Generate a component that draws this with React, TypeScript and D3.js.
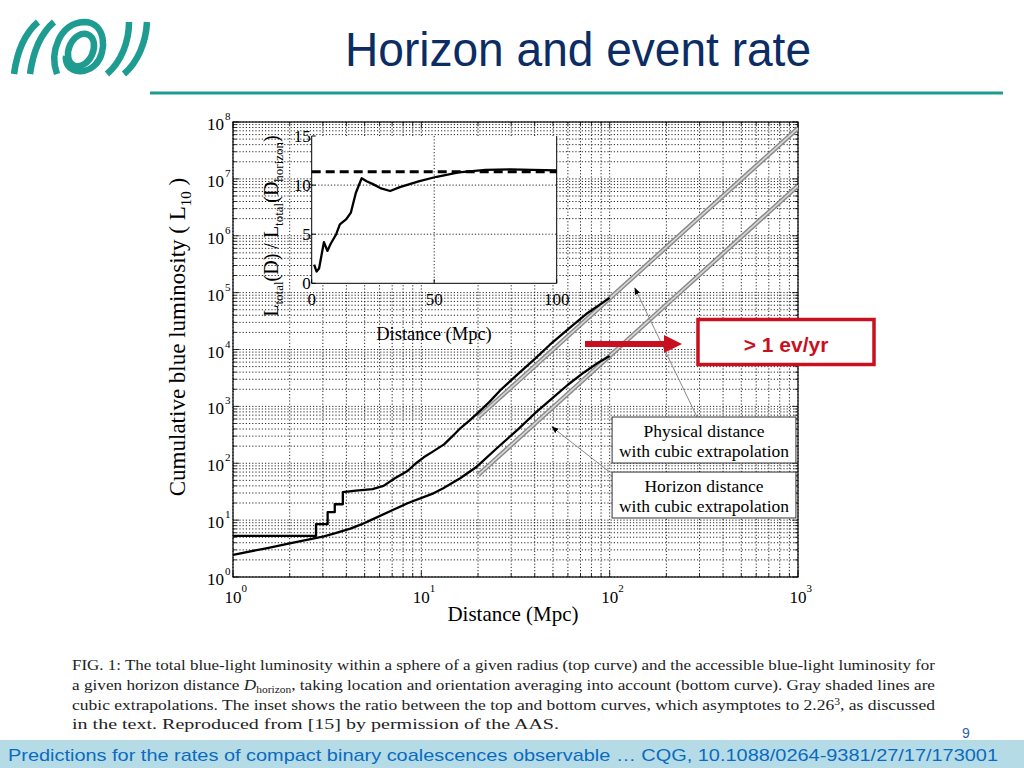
import * as d3 from "d3";

// ─── Data ────────────────────────────────────────────────────────────────────

// top curve: physical distance (Mpc) vs cumulative blue luminosity (L10)
const physicalD = [1, 2.76, 2.76, 3.18, 3.18, 3.47, 3.47, 3.83, 3.83, 4.5, 5.5, 6.3, 7.2, 8.4, 9.3, 10.3, 11.5, 13.2, 14.5, 16.2, 18, 19.9, 21, 23, 26.5, 32, 39.8, 48, 60, 75, 100];
const physicalL = [5.3, 5.3, 8.5, 8.5, 13.8, 13.8, 19, 19, 31, 33, 35, 40, 54, 72, 98, 127, 160, 215, 290, 420, 560, 760, 900, 1200, 1980, 3500, 6700, 12000, 22500, 42000, 80700];

// bottom curve: horizon distance
const horizonD = [1, 1.5, 2, 3.04, 3.5, 4.2, 4.8, 5.5, 7.1, 8.5, 11.6, 13, 16, 19.7, 25, 32.6, 40, 48.8, 60, 73, 85, 100];
const horizonL = [2.45, 3.2, 3.9, 5.2, 5.9, 7.1, 8.4, 10.3, 15.2, 20, 29.6, 36, 54, 87, 180, 393, 750, 1330, 2400, 3950, 5600, 7700];

// gray cubic extrapolations (end points)
const cubicD = [20, 1000];
const cubicTopL = [640, 7.8e7];
const cubicBottomL = [62, 7.6e6];

// inset: ratio of the two curves
const ratioD = [1, 2, 3, 5, 6.4, 7.7, 10, 11.5, 14, 16, 18, 20.4, 22.4, 25, 28, 32, 36, 44, 51, 60, 71, 81, 90, 100];
const ratioV = [1.9, 1.2, 1.5, 4.2, 3.3, 4.0, 5.0, 6.0, 6.5, 7.2, 9.2, 10.7, 10.4, 10.1, 9.7, 9.4, 9.8, 10.4, 10.85, 11.3, 11.55, 11.6, 11.55, 11.5];
const ratioAsymptote = 11.35;

const xExponents = [0, 1, 2, 3];
const yExponents = [0, 1, 2, 3, 4, 5, 6, 7, 8];
const insetXTicks = [0, 50, 100];
const insetYTicks = [0, 5, 10, 15];

const captionLines = [
  "FIG. 1: The total blue-light luminosity within a sphere of a given radius (top curve) and the accessible blue-light luminosity for",
  "cubic extrapolations.  The inset shows the ratio between the top and bottom curves, which asymptotes to 2.26",
  "in the text. Reproduced from [15] by permission of the AAS.",
];

// annotation arrows, in data coordinates: [tailD, tailL, tipD, tipL]
const annotationArrows = [
  [291, 650, 136, 1.2e5],
  [100, 70, 49.4, 434],
];
// label boxes: [leftD, rightD, topL, bottomL, line1, line2]
const labelBoxes: [number, number, number, number, string, string][] = [
  [103, 975, 650, 101, "Physical distance", "with cubic extrapolation"],
  [103, 975, 70, 10.9, "Horizon distance", "with cubic extrapolation"],
];

const SERIF = "'Liberation Serif', 'DejaVu Serif', serif";
const SANS = "'Liberation Sans', Arial, sans-serif";
const TEAL = "#1e9c92";
const NAVY = "#0b2d63";
const RED = "#c8101e";

// ─── Scales ──────────────────────────────────────────────────────────────────

const x = d3.scaleLog().domain([1, 1000]).range([233, 798]);
const y = d3.scaleLog().domain([1, 1e8]).range([577, 122]);
const ix = d3.scaleLinear().domain([0, 100]).range([311.7, 556.7]);
const iy = d3.scaleLinear().domain([0, 15]).range([283.3, 136]);

function minorValues(lo: number, hi: number) {
  const out: number[] = [];
  for (let e = lo; e < hi; e++) for (let m = 1; m < 10; m++) out.push(m * 10 ** e);
  out.push(10 ** hi);
  return out;
}

const line = (xs: number[], ys: number[]) =>
  d3.line<number>().x((_, i) => x(xs[i])).y((d) => y(d))(ys) ?? "";
const insetLine = d3.line<number>().x((_, i) => ix(ratioD[i])).y((d) => iy(d));

function Logo() {
  return (
    <g fill="none" stroke={TEAL} strokeWidth={6.5}>
      <path d="M 14 74 C 17 52, 24 34, 38 22" />
      <path d="M 30 74 C 33 52, 40 34, 54 22" />
      <path d="M 57 74 C 49 52, 60 23, 84 22 C 106 22, 108 52, 95 65 C 84 76, 64 72, 66 56" />
      <ellipse cx={81} cy={50} rx={12} ry={17} transform="rotate(25 81 50)" />
      <path d="M 107 74 C 121 62, 129 42, 129 22" />
      <path d="M 124 74 C 138 62, 146 42, 147 22" />
    </g>
  );
}

export default function App() {
  const xGrid = minorValues(0, 3);
  const yGrid = minorValues(0, 8);
  const [x0, x1] = x.range();
  const [y0, y1] = y.range();

  return (
    <div style={{ position: "fixed", left: 0, top: 0 }}>
      <svg width={1024} height={768} style={{ display: "block", background: "#fff" }}>
        <defs>
          <clipPath id="plot">
            <rect x={x0} y={y1} width={x1 - x0} height={y0 - y1} />
          </clipPath>
          <marker id="ah" viewBox="0 0 10 10" refX="9" refY="5" markerWidth="7" markerHeight="7" orient="auto">
            <path d="M0,1 L10,5 L0,9 z" fill="#000" />
          </marker>
        </defs>

        {/* ── Slide header ── */}
        <Logo />
        <text x={578} y={66} textAnchor="middle" fontFamily={SANS} fontSize={48} fill={NAVY}
          textLength={466} lengthAdjust="spacingAndGlyphs">Horizon and event rate</text>
        <line x1={150} x2={1003} y1={93} y2={93} stroke={TEAL} strokeWidth={3} />

        {/* ── Main plot grid ── */}
        <g stroke="#000" strokeWidth={1} strokeDasharray="1.2 2" opacity={0.85}>
          {xGrid.map((v) => (
            <line key={"gx" + v} x1={x(v)} x2={x(v)} y1={y1} y2={y0} />
          ))}
          {yGrid.map((v) => (
            <line key={"gy" + v} x1={x0} x2={x1} y1={y(v)} y2={y(v)} />
          ))}
        </g>
        <g stroke="#000" strokeWidth={0.8}>
          {xGrid.map((v) => {
            const len = Number.isInteger(Math.log10(v)) ? 6 : 3.5;
            return (
              <g key={"tx" + v}>
                <line x1={x(v)} x2={x(v)} y1={y0} y2={y0 - len} />
                <line x1={x(v)} x2={x(v)} y1={y1} y2={y1 + len} />
              </g>
            );
          })}
          {yGrid.map((v) => {
            const len = Number.isInteger(Math.log10(v)) ? 6 : 3.5;
            return (
              <g key={"ty" + v}>
                <line x1={x0} x2={x0 + len} y1={y(v)} y2={y(v)} />
                <line x1={x1} x2={x1 - len} y1={y(v)} y2={y(v)} />
              </g>
            );
          })}
        </g>
        <rect x={x0} y={y1} width={x1 - x0} height={y0 - y1} fill="none" stroke="#000" strokeWidth={1.2} />

        {/* ── Curves ── */}
        <g clipPath="url(#plot)" fill="none">
          <path d={line(cubicD, cubicTopL)} stroke="#8a8a8a" strokeWidth={4.5} />
          <path d={line(cubicD, cubicTopL)} stroke="#d8d8d8" strokeWidth={1.6} />
          <path d={line(cubicD, cubicBottomL)} stroke="#8a8a8a" strokeWidth={4.5} />
          <path d={line(cubicD, cubicBottomL)} stroke="#d8d8d8" strokeWidth={1.6} />
          <path d={line(physicalD, physicalL)} stroke="#000" strokeWidth={2.3} strokeLinejoin="round" />
          <path d={line(horizonD, horizonL)} stroke="#000" strokeWidth={2.3} strokeLinejoin="round" />
        </g>

        {/* ── Axis tick labels ── */}
        <g fontFamily={SERIF} fill="#000">
          {xExponents.map((e) => (
            <g key={"xl" + e}>
              <text x={x(10 ** e)} y={603} textAnchor="middle" fontSize={17}>10</text>
              <text x={x(10 ** e) + 8.5} y={592} fontSize={11}>{e}</text>
            </g>
          ))}
          {yExponents.map((e) => (
            <g key={"yl" + e}>
              <text x={224} y={y(10 ** e) + 8} textAnchor="end" fontSize={17}>10</text>
              <text x={225} y={y(10 ** e) - 2} fontSize={11}>{e}</text>
            </g>
          ))}
          <text x={513} y={621} textAnchor="middle" fontSize={21}>Distance (Mpc)</text>
          <text transform="translate(185,337) rotate(-90)" textAnchor="middle" fontSize={23}>
            Cumulative blue luminosity ( L<tspan dy={6} fontSize={15}>10</tspan><tspan dy={-6}> )</tspan>
          </text>
        </g>

        {/* ── Inset ── */}
        <rect x={ix(0)} y={iy(15)} width={ix(100) - ix(0)} height={iy(0) - iy(15)} fill="#fff" />
        <g stroke="#000" strokeWidth={1} strokeDasharray="1.2 2" opacity={0.85}>
          {insetXTicks.slice(1, -1).map((v) => (
            <line key={"igx" + v} x1={ix(v)} x2={ix(v)} y1={iy(15)} y2={iy(0)} />
          ))}
          {insetYTicks.slice(1, -1).map((v) => (
            <line key={"igy" + v} x1={ix(0)} x2={ix(100)} y1={iy(v)} y2={iy(v)} />
          ))}
        </g>
        <g stroke="#000" strokeWidth={1}>
          <line x1={ix(0)} x2={ix(0)} y1={iy(15)} y2={iy(0)} />
          <line x1={ix(0)} x2={ix(100)} y1={iy(0)} y2={iy(0)} />
          <line x1={ix(100)} x2={ix(100)} y1={iy(15)} y2={iy(0)} />
          {insetXTicks.map((v) => (
            <line key={"itx" + v} x1={ix(v)} x2={ix(v)} y1={iy(0)} y2={iy(0) - 4} />
          ))}
          {insetYTicks.map((v) => (
            <line key={"ity" + v} x1={ix(0)} x2={ix(0) + 4} y1={iy(v)} y2={iy(v)} />
          ))}
        </g>
        <line x1={ix(0)} x2={ix(100)} y1={iy(ratioAsymptote)} y2={iy(ratioAsymptote)}
          stroke="#000" strokeWidth={3} strokeDasharray="9 5" />
        <path d={insetLine(ratioV) ?? ""} fill="none" stroke="#000" strokeWidth={2.3} strokeLinejoin="round" />
        <g fontFamily={SERIF} fill="#000" fontSize={17}>
          {insetYTicks.map((v) => (
            <text key={"iyl" + v} x={ix(0) - 1} y={iy(v) + 6} textAnchor="end">{v}</text>
          ))}
          {insetXTicks.map((v) => (
            <text key={"ixl" + v} x={ix(v)} y={305} textAnchor="middle">{v}</text>
          ))}
          <text x={434} y={340} textAnchor="middle" fontSize={18.5}>Distance (Mpc)</text>
          <text transform="translate(278,226) rotate(-90)" textAnchor="middle" fontSize={20}>
            L<tspan dy={5} fontSize={13}>total</tspan><tspan dy={-5}>(D) / L</tspan>
            <tspan dy={5} fontSize={13}>total</tspan><tspan dy={-5}>(D</tspan>
            <tspan dy={5} fontSize={13}>horizon</tspan><tspan dy={-5}>)</tspan>
          </text>
        </g>

        {/* ── Annotations ── */}
        {annotationArrows.map(([td, tl, hd, hl], i) => (
          <line key={"arr" + i} x1={x(td)} y1={y(tl)} x2={x(hd)} y2={y(hl)}
            stroke="#8a8a8a" strokeWidth={1} markerEnd="url(#ah)" />
        ))}
        {labelBoxes.map(([l, r, t, b, s1, s2], i) => (
          <g key={"box" + i}>
            <rect x={x(l)} y={y(t)} width={x(r) - x(l)} height={y(b) - y(t)} fill="#fff" stroke="#333" strokeWidth={1} />
            <text x={(x(l) + x(r)) / 2} y={y(t) + 20} textAnchor="middle" fontFamily={SERIF} fontSize={17.5}>{s1}</text>
            <text x={(x(l) + x(r)) / 2} y={y(t) + 40} textAnchor="middle" fontFamily={SERIF} fontSize={17.5}>{s2}</text>
          </g>
        ))}

        {/* ── Slide overlay: event-rate callout ── */}
        <rect x={585} y={341} width={82} height={6} fill={RED} />
        <path d="M 664 335 L 682 344 L 664 353 Z" fill={RED} />
        <rect x={698} y={319.5} width={176} height={45} fill="#fff" stroke={RED} strokeWidth={3.5} />
        <text x={786} y={352} textAnchor="middle" fontFamily={SANS} fontWeight="bold" fontSize={21} fill={RED}>
          &gt; 1 ev/yr
        </text>

        {/* ── Caption ── */}
        <g fontFamily={SERIF} fontSize={15} fill="#222">
          <text x={72} y={670} textLength={863} lengthAdjust="spacingAndGlyphs">{captionLines[0]}</text>
          <text x={72} y={690} textLength={863} lengthAdjust="spacingAndGlyphs">
            a given horizon distance <tspan fontStyle="italic">D</tspan>
            <tspan dy={3} fontSize={10}>horizon</tspan>
            <tspan dy={-3}>, taking location and orientation averaging into account (bottom curve). Gray shaded lines are</tspan>
          </text>
          <text x={72} y={710} textLength={863} lengthAdjust="spacingAndGlyphs">
            {captionLines[1]}<tspan dy={-5} fontSize={10}>3</tspan><tspan dy={5}>, as discussed</tspan>
          </text>
          <text x={72} y={729} textLength={487} lengthAdjust="spacingAndGlyphs">{captionLines[2]}</text>
        </g>
        <text x={966} y={738} textAnchor="middle" fontFamily={SANS} fontSize={14} fill="#2a5fa8">9</text>

        {/* ── Footer ── */}
        <rect x={0} y={740} width={1024} height={28} fill="#b5dce6" />
        <text x={8} y={761} fontFamily={SANS} fontSize={17} fill="#0a6bc0" textLength={990} lengthAdjust="spacingAndGlyphs">
          Predictions for the rates of compact binary coalescences observable … CQG, 10.1088/0264-9381/27/17/173001
        </text>
      </svg>
    </div>
  );
}
